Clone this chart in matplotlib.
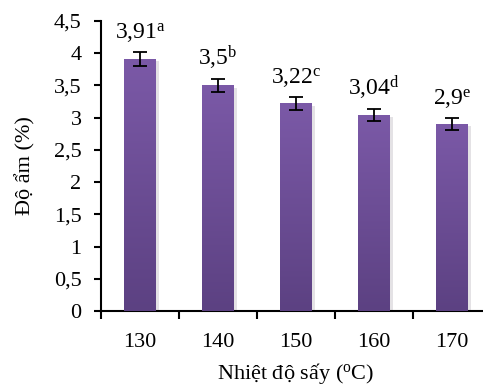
import numpy as np
import matplotlib
matplotlib.use('Agg')
import matplotlib.pyplot as plt
import matplotlib.patheffects as pe

plt.rcParams['font.family'] = ['Liberation Serif', 'DejaVu Serif']
plt.rcParams['mathtext.fontset'] = 'custom'
plt.rcParams['mathtext.rm'] = 'Liberation Serif'
plt.rcParams['mathtext.it'] = 'Liberation Serif:italic'

# Dữ liệu
nhiet_do = ['130', '140', '150', '160', '170']
do_am = [3.91, 3.5, 3.22, 3.04, 2.9]
sai_so = [0.11, 0.10, 0.10, 0.09, 0.09]
nhan = ['3,91', '3,5', '3,22', '3,04', '2,9']
chu = ['a', 'b', 'c', 'd', 'e']
y_ticks = [0, 0.5, 1, 1.5, 2, 2.5, 3, 3.5, 4, 4.5]

fig = plt.figure(figsize=(4.83, 3.87), dpi=100)
ax = fig.add_axes([101 / 483, (387 - 311) / 387, 390 / 483, 290 / 387])

x = np.arange(len(nhiet_do))
bars = ax.bar(x, do_am, width=0.41, color='#6e4f98', zorder=2,
              path_effects=[pe.SimplePatchShadow(offset=(2.5, -1.5), alpha=0.12), pe.Normal()])

# Tô màu chuyển sắc cho cột
grad = np.linspace(0, 1, 256).reshape(-1, 1)
cmap = matplotlib.colors.LinearSegmentedColormap.from_list('tim', ['#5c4182', '#7b59a7'])
for b in bars:
    x0, y0 = b.get_x(), b.get_y()
    im = ax.imshow(grad, cmap=cmap, origin='lower', aspect='auto', zorder=3,
                   extent=[x0, x0 + b.get_width(), y0, y0 + b.get_height()])
    im.set_clip_path(b)

ax.errorbar(x, do_am, yerr=sai_so, fmt='none', ecolor='black', elinewidth=1.3,
            capsize=5, capthick=1.3, zorder=4)

for i in range(len(x)):
    ax.annotate(nhan[i] + r'$^{\mathrm{' + chu[i] + '}}$', (x[i], do_am[i] + sai_so[i]),
                xytext=(0, 5), textcoords='offset points', ha='center', va='bottom',
                fontsize=17)

ax.set_xlim(-0.5, 4.5)
ax.set_ylim(0, 4.5)
ax.set_yticks(y_ticks)
ax.set_yticklabels([('%g' % v).replace('.', ',') for v in y_ticks])
ax.set_xticks(x)
ax.set_xticklabels(nhiet_do)
ax.set_xticks(np.arange(-0.5, 5, 1), minor=True)
ax.tick_params(axis='x', which='major', length=0, labelsize=16, pad=16)
ax.tick_params(axis='x', which='minor', length=6, width=1.5, direction='out')
ax.tick_params(axis='y', length=5, width=1.5, direction='out', labelsize=16, pad=9)

for s in ['top', 'right']:
    ax.spines[s].set_visible(False)
for s in ['left', 'bottom']:
    ax.spines[s].set_linewidth(1.5)

ax.set_xlabel(r'Nhiệt độ sấy ($^{\mathrm{o}}$C)', fontsize=16)
ax.set_ylabel('Độ ẩm (%)', fontsize=16)
ax.xaxis.set_label_coords(195 / 390, -50 / 290)
ax.yaxis.set_label_coords(-66 / 390, 0.5)

fig.savefig('out.png', dpi=100)
